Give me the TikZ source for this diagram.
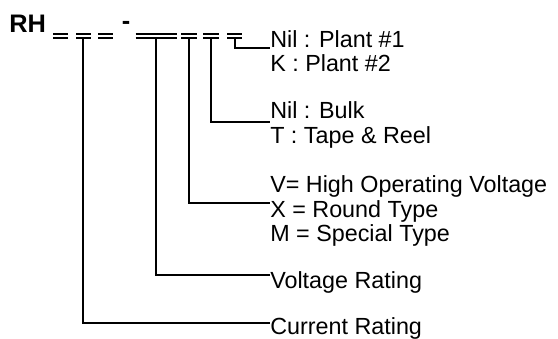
\documentclass[tikz,border=0pt]{standalone}
\usepackage{fontspec}
\setmainfont{Liberation Sans}
\usetikzlibrary{positioning,calc}
\tikzstyle{ltext}=[anchor=base west, inner sep=0pt, align=left,
                   font=\fontsize{17.5}{18.4}\selectfont]
\tikzstyle{btext}=[ltext, font=\fontsize{19}{20}\selectfont\bfseries]
\tikzstyle{digit}=[-, line width=1.3pt]
\tikzstyle{pline}=[-, line width=1.5pt]

\begin{document}
\begin{tikzpicture}[x=0.75pt,y=-0.75pt]
\useasboundingbox (0,0) rectangle (558,339);
\clip (0,0) rectangle (558,339);

\node (RH) [btext] at (9,32.5) {RH};
\node (SEP) [btext] at (121.5,29.5) {-};

\foreach \a/\b in {53/68, 76/91, 98/113, 135.5/177, 181/197, 203/218.5, 227/241.5}
  \draw[digit] (\a,34) -- (\b,34) (\a,38.3) -- (\b,38.3);

\coordinate (CR) at (83.3,38.3);
\coordinate (VR) at (155.5,38.3);
\coordinate (TY) at (189.3,38.3);
\coordinate (PK) at (211.3,38.3);
\coordinate (PL) at (234.5,38.3);

\node (PLANT) [ltext] at (270,71.7) {Nil : Plant \#1\\K : Plant \#2};
 \draw[pline] (PL) |- ($(PLANT.base west)+(0,-23.7)$);
\node (BULK) [ltext] at (270,143.3) {Nil : Bulk\\T : Tape \& Reel};
 \draw[pline] (PK) |- ($(BULK.base west)+(0,-21.6)$);
\node (TYPE) [ltext] at (270,241.7) {V= High Operating Voltage\\X = Round Type\\M = Special Type};
 \draw[pline] (TY) |- ($(TYPE.base west)+(0,-39.2)$);
\node (VOLT) [ltext] at (270,288.3) {Voltage Rating};
 \draw[pline] (VR) |- ($(VOLT.base west)+(0,-13.3)$);
\node (CUR) [ltext] at (270,334.5) {Current Rating};
 \draw[pline] (CR) |- ($(CUR.base west)+(0,-11.2)$);

\end{tikzpicture}
\end{document}
